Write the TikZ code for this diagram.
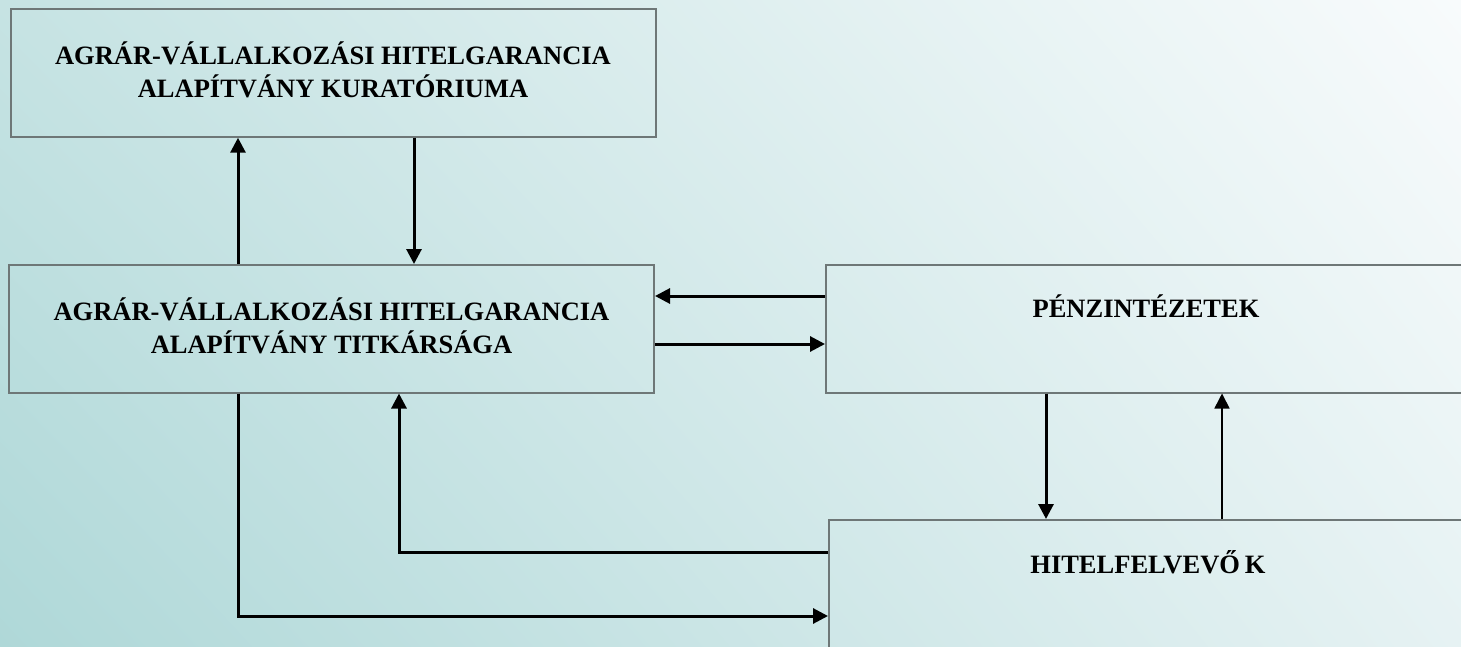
\documentclass[tikz,border=0pt]{standalone}
\usepackage{fontspec}
\setmainfont{Liberation Serif}
\usetikzlibrary{arrows.meta,shadings}

\definecolor{bgUL}{HTML}{C6E3E3}
\definecolor{bgLL}{HTML}{AFD8D8}
\definecolor{bgUR}{HTML}{F8FBFC}
\definecolor{bgLR}{HTML}{E6F2F3}
\definecolor{boxline}{HTML}{6E7777}

\begin{document}
\begin{tikzpicture}[
    % GLOBAL CFG
    x=1pt, y=-1pt,
    font=\bfseries\fontsize{26.5}{33}\selectfont,
    % Styles
    box/.style={% For the main boxes
        rectangle,
        draw=boxline,
        line width=2pt,
        minimum width=645pt,
        minimum height=127.5pt,
        inner sep=0pt,
        },
    boxtext/.style={% Text inside the boxes
        align=center,
        inner sep=0pt,
        },
    flow/.style={% Arrows between boxes
        line width=3pt,
        -{Triangle[length=15pt,width=15pt]},
        },
    thinflow/.style={% The thin one
        line width=1.6pt,
        -{Triangle[length=15pt,width=15pt]},
        },
    ]

%Background
    \useasboundingbox (0,0) rectangle (1461,647);
    \shade[upper left=bgUL, lower left=bgLL, upper right=bgUR, lower right=bgLR]
        (0,0) rectangle (1461,647);

% Draw the boxes
    \node [box] (kurat) at (333.5,73) {};
    \node [box] (titk) at (331.5,328.75) {};
    \node [box] (penz) at (1148.5,328.75) {};
    \node [box, minimum height=160pt] (hitel) at (1151.5,600) {};

    % texts of the boxes
    \node [boxtext] (kuratT) at (333,70) {AGRÁR-VÁLLALKOZÁSI HITELGARANCIA\\ALAPÍTVÁNY KURATÓRIUMA};
    \node [boxtext] (titkT) at (331.5,326) {AGRÁR-VÁLLALKOZÁSI HITELGARANCIA\\ALAPÍTVÁNY TITKÁRSÁGA};
    \node [boxtext] (penzT) at (1146,306) {PÉNZINTÉZETEK};
    \node [boxtext] (hitelT) at (1148,562) {HITELFELVEVŐ\kern5pt K};

    % columns and rows of the arrows
    \coordinate (c1) at (238,0);
    \coordinate (c2) at (414,0);
    \coordinate (c3) at (399,0);
    \coordinate (c4) at (1046,0);
    \coordinate (c5) at (1222,0);
    \coordinate (r1) at (0,296);
    \coordinate (r2) at (0,344);
    \coordinate (r3) at (0,552);
    \coordinate (r4) at (0,616);

% Start connecting all.
    \draw [flow] (titk.north -| c1) -- (kurat.south -| c1);
    \draw [flow] (kurat.south -| c2) -- (titk.north -| c2);
    \draw [flow] (penz.west |- r1) -- (titk.east |- r1);
    \draw [flow] (titk.east |- r2) -- (penz.west |- r2);
    \draw [flow] (penz.south -| c4) -- (hitel.north -| c4);
    \draw [thinflow] (hitel.north -| c5) -- (penz.south -| c5);
    \draw [flow] (hitel.west |- r3) -| (titk.south -| c3);
    \draw [flow] (titk.south -| c1) |- (hitel.west |- r4);
\end{tikzpicture}
\end{document}
